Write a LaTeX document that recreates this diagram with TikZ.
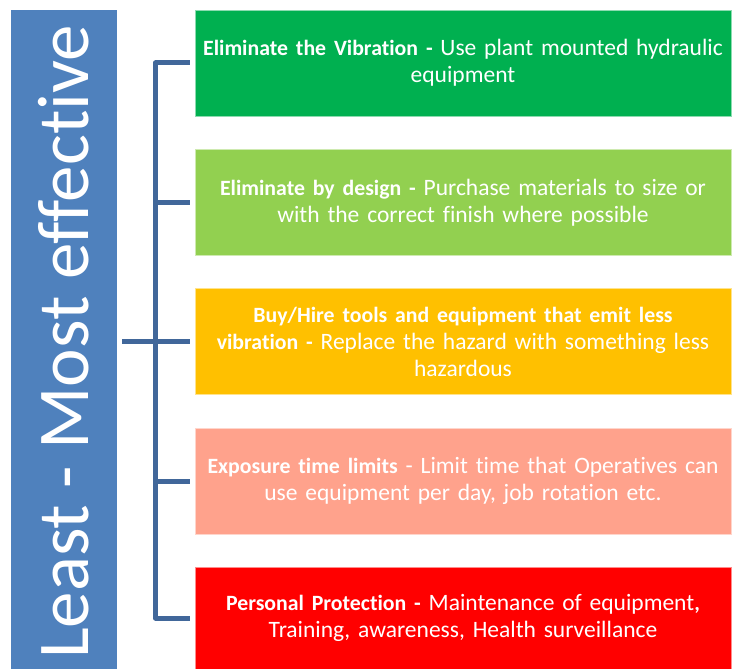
\documentclass[tikz,border=0pt]{standalone}
\usepackage{fontspec}
\setmainfont[Ligatures=NoCommon]{Carlito}
\usetikzlibrary{positioning}
\definecolor{barblue}{HTML}{4F81BD}
\definecolor{linkblue}{HTML}{41679A}
\definecolor{cgreen}{HTML}{00B050}
\definecolor{clime}{HTML}{92D050}
\definecolor{camber}{HTML}{FFC000}
\definecolor{csalmon}{HTML}{FFA28C}
\definecolor{cred}{HTML}{FF0000}
\newcommand\lead[1]{{\fontsize{21.8}{27}\selectfont\bfseries #1}}
\begin{document}
\begin{tikzpicture}[x=1pt, y=-1pt,
    level/.style = {draw=white!55!#1, fill=#1, line width=0.8pt, minimum width=536pt, minimum height=106pt, text width=536pt, align=center, text=white, font=\fontsize{23.5}{27}\selectfont, inner sep=0pt},
    link/.style = {draw=linkblue, line width=5pt, line join=round}]
    \useasboundingbox (0,0) rectangle (732,669);
    \node[fill=barblue, minimum width=106pt, minimum height=659pt, inner sep=0pt] (bar) at (64,339.5) {};
    \node[rotate=90, text=white, font=\fontsize{73}{80}\selectfont] (title) at (64,342) {Least - Most effective};
    \node[level=cgreen] (1) at (463,63) {\lead{Eliminate the Vibration -} Use plant mounted hydraulic\\ equipment};
    \node[level=clime] (2) at (463,202.5) {\lead{Eliminate by design -} Purchase materials to size or\\ with the correct finish where possible};
    \node[level=camber] (3) at (463,341.5) {\lead{Buy/Hire tools and equipment that emit less}\\ \lead{vibration -} Replace the hazard with something less\\ hazardous};
    \node[level=csalmon] (4) at (463,481) {\lead{Exposure time limits} - Limit time that Operatives can\\ use equipment per day, job rotation etc.};
    \node[level=cred, minimum height=102pt] (5) at (463,618) {\lead{Personal Protection -} Maintenance of equipment\lead{,}\\ Training, awareness, Health surveillance};
    \draw[link] ([xshift=-5pt]1.west) -- ++(-34,0) |- ([xshift=-5pt]5.west);
    \draw[link] ([xshift=-5pt]2.west) -- ++(-34,0);
    \draw[link] ([xshift=-5pt]4.west) -- ++(-34,0);
    \draw[link] ([xshift=5pt]bar.east |- 3.west) -- ([xshift=-5pt]3.west);
\end{tikzpicture}
\end{document}
